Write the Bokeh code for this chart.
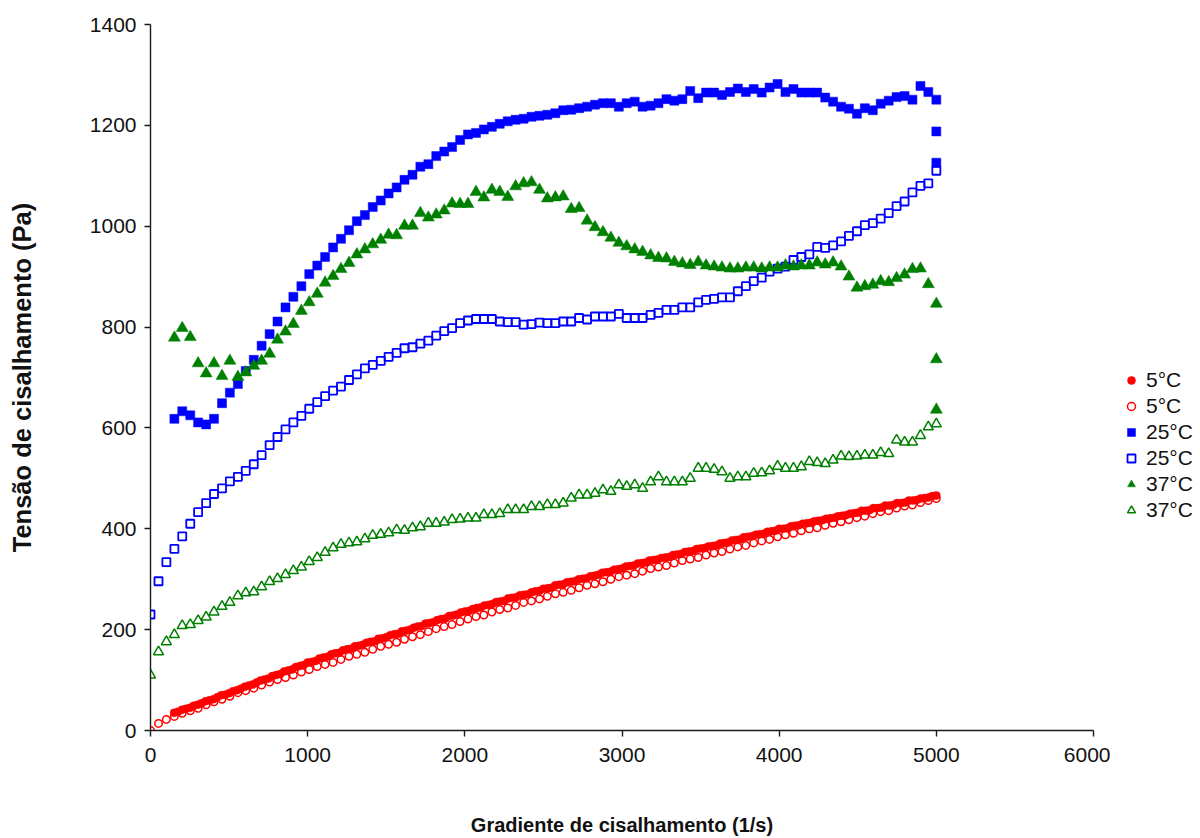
from bokeh.plotting import figure
from bokeh.layouts import row
from bokeh.models import ColumnDataSource, Range1d, FixedTicker, Legend, LegendItem
from bokeh.embed import file_html
from bokeh.resources import INLINE

# ---------------- data ----------------
# shear rate grid (1/s) of the 100-point ramp
SHEAR_RATE = [0, 51, 101, 152, 202, 253, 303, 354, 404, 455,
              505, 556, 606, 657, 707, 758, 808, 859, 909, 960,
              1010, 1061, 1111, 1162, 1212, 1263, 1313, 1364, 1414, 1465,
              1515, 1566, 1616, 1667, 1717, 1768, 1818, 1869, 1919, 1970,
              2020, 2071, 2121, 2172, 2222, 2273, 2323, 2374, 2424, 2475,
              2525, 2576, 2626, 2677, 2727, 2778, 2828, 2879, 2929, 2980,
              3030, 3081, 3131, 3182, 3232, 3283, 3333, 3384, 3434, 3485,
              3535, 3586, 3636, 3687, 3737, 3788, 3838, 3889, 3939, 3990,
              4040, 4091, 4141, 4192, 4242, 4293, 4343, 4394, 4444, 4495,
              4545, 4596, 4646, 4697, 4747, 4798, 4848, 4899, 4949, 5000]

# 5 °C, filled circles (denser sampling)
RATE_5C_FILLED = [150, 175, 200, 225, 250, 275, 300, 325, 350, 375, 400, 425, 450, 475, 500, 525,
                  550, 575, 600, 625, 650, 675, 700, 725, 750, 775, 800, 825, 850, 875, 900, 925,
                  950, 975, 1000, 1025, 1050, 1075, 1100, 1125, 1150, 1175, 1200, 1225, 1250, 1275,
                  1300, 1325, 1350, 1375, 1400, 1425, 1450, 1475, 1500, 1525, 1550, 1575, 1600, 1625,
                  1650, 1675, 1700, 1725, 1750, 1775, 1800, 1825, 1850, 1875, 1900, 1925, 1950, 1975,
                  2000, 2025, 2050, 2075, 2100, 2125, 2150, 2175, 2200, 2225, 2250, 2275, 2300, 2325,
                  2350, 2375, 2400, 2425, 2450, 2475, 2500, 2525, 2550, 2575, 2600, 2625, 2650, 2675,
                  2700, 2725, 2750, 2775, 2800, 2825, 2850, 2875, 2900, 2925, 2950, 2975, 3000, 3025,
                  3050, 3075, 3100, 3125, 3150, 3175, 3200, 3225, 3250, 3275, 3300, 3325, 3350, 3375,
                  3400, 3425, 3450, 3475, 3500, 3525, 3550, 3575, 3600, 3625, 3650, 3675, 3700, 3725,
                  3750, 3775, 3800, 3825, 3850, 3875, 3900, 3925, 3950, 3975, 4000, 4025, 4050, 4075,
                  4100, 4125, 4150, 4175, 4200, 4225, 4250, 4275, 4300, 4325, 4350, 4375, 4400, 4425,
                  4450, 4475, 4500, 4525, 4550, 4575, 4600, 4625, 4650, 4675, 4700, 4725, 4750, 4775,
                  4800, 4825, 4850, 4875, 4900, 4925, 4950, 4975, 5000]
STRESS_5C_FILLED = [35, 37, 41, 43, 45, 49, 51, 54, 58, 60, 62, 66, 70, 71, 74, 78,
                    80, 83, 87, 89, 91, 95, 99, 101, 103, 108, 110, 112, 117, 119, 121, 126,
                    128, 130, 135, 136, 138, 143, 145, 146, 151, 153, 154, 159, 161, 162,
                    167, 168, 170, 174, 176, 177, 182, 183, 185, 189, 191, 192, 197, 198,
                    200, 204, 206, 207, 212, 213, 215, 219, 221, 222, 227, 228, 230, 234,
                    236, 237, 241, 243, 244, 248, 249, 251, 255, 256, 257, 262, 263, 264,
                    268, 269, 270, 274, 276, 277, 281, 282, 283, 288, 289, 290, 294, 295,
                    296, 300, 301, 302, 306, 307, 309, 313, 314, 315, 319, 320, 321, 325,
                    326, 327, 331, 332, 333, 337, 338, 339, 342, 343, 344, 348, 349, 350,
                    354, 355, 356, 360, 361, 362, 365, 366, 367, 371, 372, 373, 377, 378,
                    379, 383, 384, 385, 388, 389, 390, 394, 395, 396, 400, 400, 401, 405,
                    406, 407, 410, 411, 412, 415, 416, 417, 420, 421, 422, 425, 426, 427,
                    430, 431, 432, 436, 436, 437, 441, 441, 442, 446, 446, 447, 451, 451,
                    452, 456, 456, 457, 460, 461, 462, 465, 466]

# 5 °C, open circles (all 100 grid points)
STRESS_5C_OPEN = [0, 14, 22, 28, 34, 39, 44, 51, 57, 62,
                  68, 75, 79, 84, 90, 96, 101, 105, 110, 116,
                  121, 127, 131, 135, 141, 147, 151, 155, 161, 167,
                  171, 175, 181, 186, 190, 196, 202, 206, 210, 216,
                  221, 226, 229, 235, 240, 243, 248, 254, 257, 261,
                  266, 271, 274, 278, 283, 288, 291, 295, 300, 305,
                  308, 311, 316, 321, 324, 327, 332, 337, 340, 343,
                  348, 352, 355, 360, 364, 367, 372, 376, 379, 384,
                  388, 391, 396, 400, 402, 407, 411, 414, 418, 422,
                  425, 430, 434, 436, 441, 445, 447, 452, 456, 460]

# 25 °C, filled squares (grid points 4..100, then held at 5000)
STRESS_25C_FILLED = [618, 633, 625, 611, 607, 618, 649,
                     670, 687, 713, 735, 763, 786, 811, 839, 860, 881,
                     905, 922, 939, 958, 975, 992, 1010, 1022, 1038, 1051,
                     1065, 1077, 1092, 1102, 1118, 1123, 1139, 1148, 1157, 1171,
                     1182, 1185, 1192, 1197, 1203, 1208, 1211, 1213, 1217, 1219,
                     1221, 1224, 1230, 1231, 1234, 1237, 1241, 1244, 1244, 1237,
                     1244, 1247, 1237, 1239, 1244, 1252, 1249, 1252, 1268, 1254,
                     1265, 1265, 1260, 1266, 1273, 1266, 1272, 1265, 1275, 1282,
                     1266, 1272, 1265, 1265, 1265, 1255, 1247, 1237, 1233, 1223,
                     1234, 1230, 1243, 1249, 1256, 1258, 1251, 1278, 1266, 1251]
HOLD_25C_FILLED = [1188, 1126]

# 25 °C, open squares
STRESS_25C_OPEN = [230, 296, 334, 360, 385, 410, 433, 451, 469, 480,
                   494, 503, 515, 528, 546, 566, 582, 597, 611, 624,
                   638, 651, 663, 674, 682, 695, 706, 718, 725, 733,
                   741, 749, 758, 760, 767, 773, 783, 792, 798, 808,
                   813, 816, 816, 816, 811, 810, 810, 805, 806, 809,
                   808, 808, 811, 811, 818, 815, 821, 821, 821, 826,
                   818, 818, 818, 824, 828, 834, 834, 839, 839, 849,
                   854, 856, 859, 859, 871, 881, 891, 898, 910, 916,
                   920, 933, 939, 944, 959, 957, 962, 970, 981, 990,
                   1002, 1006, 1015, 1026, 1040, 1049, 1067, 1080, 1085, 1110]

# 37 °C, filled triangles (grid points 4..100, then held at 5000)
STRESS_37C_FILLED = [779, 798, 780, 728, 708, 728, 703,
                     733, 701, 710, 723, 733, 747, 775, 791, 806, 832,
                     849, 866, 888, 901, 915, 927, 944, 954, 964, 973,
                     983, 982, 1001, 1001, 1026, 1017, 1023, 1031, 1045, 1044,
                     1044, 1068, 1057, 1072, 1068, 1058, 1079, 1085, 1087, 1072,
                     1055, 1057, 1059, 1034, 1036, 1011, 998, 988, 977, 967,
                     960, 954, 949, 942, 937, 936, 929, 926, 923, 929,
                     922, 920, 918, 916, 916, 918, 918, 916, 918, 918,
                     922, 920, 922, 922, 928, 924, 928, 920, 900, 878,
                     881, 884, 891, 889, 897, 904, 915, 916, 885, 846]
HOLD_37C_FILLED = [736, 636]

# 37 °C, open triangles
STRESS_37C_OPEN = [110, 156, 176, 190, 208, 210, 218, 225, 235, 246,
                   254, 267, 273, 275, 285, 295, 301, 309, 317, 324,
                   335, 343, 353, 362, 369, 372, 374, 380, 387, 389,
                   392, 398, 397, 402, 404, 411, 411, 413, 418, 419,
                   421, 421, 428, 428, 430, 438, 438, 438, 444, 444,
                   448, 448, 451, 461, 467, 467, 470, 477, 474, 487,
                   484, 487, 480, 493, 503, 493, 493, 493, 500, 520,
                   520, 518, 513, 500, 503, 503, 510, 511, 515, 524,
                   520, 520, 523, 533, 531, 529, 536, 544, 543, 544,
                   546, 546, 551, 549, 576, 572, 572, 585, 602, 608]

HOLD_RATE = 5000
X_TICKS = [0, 1000, 2000, 3000, 4000, 5000, 6000]
Y_TICKS = [0, 200, 400, 600, 800, 1000, 1200, 1400]
LEGEND_LABELS = ["5°C", "5°C", "25°C", "25°C", "37°C", "37°C"]

RED = "#FF0000"
BLUE = "#0000FF"
GREEN = "#008000"
FONT = "Liberation Sans"

# marker styles shared by the plot and its legend
STYLES = [
    dict(marker="circle", size=8, fill_color=RED, line_color=RED, line_width=0.5),
    dict(marker="circle", size=7.5, fill_color=None, line_color=RED, line_width=1.5),
    dict(marker="square", size=9, fill_color=BLUE, line_color=BLUE, line_width=0.5),
    dict(marker="square", size=8, fill_color=None, line_color=BLUE, line_width=1.8),
    dict(marker="triangle", size=12, fill_color=GREEN, line_color=GREEN, line_width=0.5),
    dict(marker="triangle", size=10, fill_color=None, line_color=GREEN, line_width=1.5),
]

MAIN_W = 1110
LEG_W = 1200 - MAIN_W

# ---------------- main figure ----------------
p = figure(width=MAIN_W, height=838, x_range=Range1d(0, 6000), y_range=Range1d(0, 1400),
           output_backend="svg", toolbar_location=None,
           min_border_left=150, min_border_right=MAIN_W - 1093, min_border_top=24, min_border_bottom=102)
p.xgrid.visible = False
p.ygrid.visible = False
p.outline_line_color = None
p.background_fill_color = "white"
p.border_fill_color = "white"

for ax in (p.xaxis[0], p.yaxis[0]):
    ax.axis_line_color = "#1a1a1a"
    ax.axis_line_width = 1.4
    ax.major_tick_line_color = "#1a1a1a"
    ax.major_tick_line_width = 1.4
    ax.major_tick_in = 0
    ax.major_tick_out = 6
    ax.minor_tick_in = 0
    ax.minor_tick_out = 0
    ax.major_label_text_font = FONT
    ax.major_label_text_font_size = "21px"
    ax.major_label_text_color = "#111111"
    ax.axis_label_text_font = FONT
    ax.axis_label_text_font_style = "bold"
    ax.axis_label_text_color = "#111111"

p.xaxis.ticker = FixedTicker(ticks=X_TICKS)
p.yaxis.ticker = FixedTicker(ticks=Y_TICKS)
p.xaxis.major_label_standoff = 11
p.yaxis.major_label_standoff = 8
p.xaxis.axis_label = "Gradiente de cisalhamento (1/s)"
p.yaxis.axis_label = "Tensão de cisalhamento (Pa)"
p.xaxis.axis_label_text_font_size = "20px"
p.yaxis.axis_label_text_font_size = "25.5px"
p.xaxis.axis_label_standoff = 49
p.yaxis.axis_label_standoff = 51

sources = [
    ColumnDataSource(dict(x=RATE_5C_FILLED, y=STRESS_5C_FILLED)),
    ColumnDataSource(dict(x=SHEAR_RATE, y=STRESS_5C_OPEN)),
    ColumnDataSource(dict(x=SHEAR_RATE[3:] + [HOLD_RATE] * len(HOLD_25C_FILLED),
                          y=STRESS_25C_FILLED + HOLD_25C_FILLED)),
    ColumnDataSource(dict(x=SHEAR_RATE, y=STRESS_25C_OPEN)),
    ColumnDataSource(dict(x=SHEAR_RATE[3:] + [HOLD_RATE] * len(HOLD_37C_FILLED),
                          y=STRESS_37C_FILLED + HOLD_37C_FILLED)),
    ColumnDataSource(dict(x=SHEAR_RATE, y=STRESS_37C_OPEN)),
]
for src, st in zip(sources, STYLES):
    p.scatter("x", "y", source=src, **st)

# ---------------- legend strip (frame aligned with the main frame) ----------------
lg = figure(width=LEG_W, height=838, x_range=Range1d(0, 1), y_range=Range1d(0, 1),
            output_backend="svg", toolbar_location=None,
            x_axis_type=None, y_axis_type=None,
            min_border_left=0, min_border_right=0, min_border_top=0, min_border_bottom=0)
lg.xgrid.visible = False
lg.ygrid.visible = False
lg.outline_line_color = None
lg.background_fill_color = "white"
lg.border_fill_color = "white"

items = []
for lab, st in zip(LEGEND_LABELS, STYLES):
    # a single off-range point, only used to draw the legend swatch
    r = lg.scatter(x=[-5], y=[-5], **st)
    items.append(LegendItem(label=lab, renderers=[r]))

legend = Legend(items=items, location=(1121 - MAIN_W, 207))
legend.glyph_width = 20
legend.glyph_height = 26
legend.label_height = 26
legend.spacing = 0
legend.padding = 0
legend.margin = 0
legend.label_standoff = 5
legend.border_line_color = None
legend.background_fill_alpha = 0
legend.label_text_font = FONT
legend.label_text_font_size = "21px"
legend.label_text_color = "#111111"
lg.add_layout(legend)

layout = row(p, lg, spacing=0)
open("out.html", "w").write(file_html(layout, INLINE))
